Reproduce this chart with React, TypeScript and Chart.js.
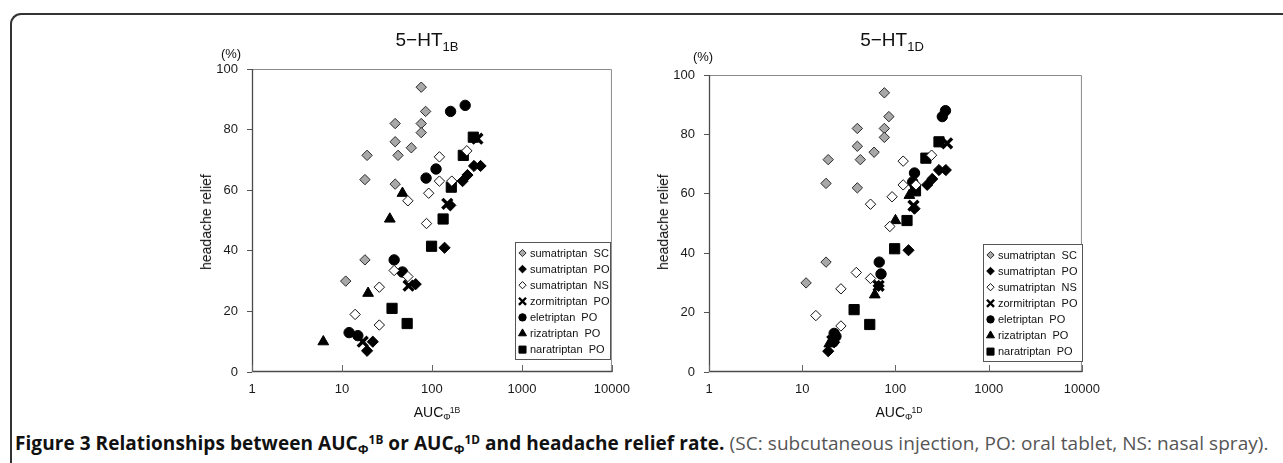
import React, { useEffect, useRef } from 'react';
import { Chart, registerables } from 'chart.js';
Chart.register(...registerables);

type Pt = [number, number];

// ---------- tick labels ----------
const X_TICKS = [1, 10, 100, 1000, 10000];
const Y_TICKS = [0, 20, 40, 60, 80, 100];

// ---------- series names ----------
const SERIES_NAMES = [
  'sumatriptan  SC',
  'sumatriptan  PO',
  'sumatriptan  NS',
  'zormitriptan  PO',
  'eletriptan  PO',
  'rizatriptan  PO',
  'naratriptan  PO',
];

// ---------- data: [AUC, headache relief %] ----------
const sumatriptanSC: Pt[] = [[76, 94], [85, 86], [39, 82], [76, 82], [76, 79], [39, 76], [59, 74], [19, 71.5], [42, 71.5], [18, 63.5], [39, 62], [18, 37], [11, 30]];
const sumatriptanPO: Pt[] = [[19, 7], [22, 10], [66, 29], [138, 41], [160, 55], [219, 63], [248, 65], [293, 68], [347, 68]];
const sumatriptanNS: Pt[] = [[121, 71], [244, 73], [121, 63], [166, 63], [92, 59], [54, 56.5], [87, 49], [38, 33.5], [54, 31.5], [26, 28], [14, 19], [26, 15.5]];

const zormitriptan1B: Pt[] = [[17, 10], [55, 28.5], [148, 55.5], [320, 77]];
const eletriptan1B: Pt[] = [[234, 88], [161, 86], [111, 67], [86, 64], [38, 37], [47, 33], [12, 13], [15, 12]];
const rizatriptan1B: Pt[] = [[47, 59], [34, 50.5], [19.5, 26], [6.2, 10]];
const naratriptan1B: Pt[] = [[288, 77.5], [223, 71.5], [164, 61], [133, 50.5], [99, 41.5], [36, 21], [53, 16]];

const zormitriptan1D: Pt[] = [[21, 10.5], [66, 29], [156, 56], [358, 77]];
const eletriptan1D: Pt[] = [[344, 88], [318, 86], [160, 67], [153, 64], [67, 37], [70, 33], [22, 13], [23, 12]];
const rizatriptan1D: Pt[] = [[141, 59.5], [100, 51], [60, 26], [19.5, 9.5]];
const naratriptan1D: Pt[] = [[293, 77.5], [212, 72], [164, 61], [133, 51], [98, 41.5], [36, 21], [53, 16]];

const SERIES_1B: Pt[][] = [sumatriptanSC, sumatriptanPO, sumatriptanNS, zormitriptan1B, eletriptan1B, rizatriptan1B, naratriptan1B];
const SERIES_1D: Pt[][] = [sumatriptanSC, sumatriptanPO, sumatriptanNS, zormitriptan1D, eletriptan1D, rizatriptan1D, naratriptan1D];

// ---------- styles ----------
type Sty = { ps: string; r: number; bg: string; bc: string; bw: number; lr: number; lbw: number };
const STYLES: Sty[] = [
  { ps: 'rectRot', r: 5.2, bg: '#a8a8a8', bc: '#2a2a2a', bw: 1, lr: 3.6, lbw: 1 },
  { ps: 'rectRot', r: 5.6, bg: '#000', bc: '#000', bw: 1, lr: 3.8, lbw: 1 },
  { ps: 'rectRot', r: 5.2, bg: '#fff', bc: '#111', bw: 1, lr: 3.6, lbw: 1 },
  { ps: 'crossRot', r: 7, bg: '#000', bc: '#000', bw: 3.4, lr: 5, lbw: 2.4 },
  { ps: 'circle', r: 5.2, bg: '#000', bc: '#000', bw: 1, lr: 3.7, lbw: 1 },
  { ps: 'triangle', r: 6.2, bg: '#000', bc: '#000', bw: 1, lr: 4.6, lbw: 1 },
  { ps: 'rect', r: 7.2, bg: '#000', bc: '#000', bw: 1, lr: 5, lbw: 1 },
];

const FONT = "'Liberation Sans', Arial, sans-serif";

function drawMarker(ctx: CanvasRenderingContext2D, s: Sty, x: number, y: number) {
  const r = s.lr;
  ctx.save();
  ctx.fillStyle = s.bg;
  ctx.strokeStyle = s.bc;
  ctx.lineWidth = s.lbw;
  ctx.beginPath();
  if (s.ps === 'rectRot') {
    ctx.moveTo(x, y - r); ctx.lineTo(x + r, y); ctx.lineTo(x, y + r); ctx.lineTo(x - r, y); ctx.closePath();
    ctx.fill(); ctx.stroke();
  } else if (s.ps === 'circle') {
    ctx.arc(x, y, r, 0, Math.PI * 2); ctx.fill(); ctx.stroke();
  } else if (s.ps === 'triangle') {
    const w = r * Math.sqrt(3) / 2;
    ctx.moveTo(x, y - r); ctx.lineTo(x + w, y + r / 2); ctx.lineTo(x - w, y + r / 2); ctx.closePath();
    ctx.fill(); ctx.stroke();
  } else if (s.ps === 'rect') {
    const a = r * Math.SQRT1_2;
    ctx.rect(x - a, y - a, 2 * a, 2 * a); ctx.fill(); ctx.stroke();
  } else if (s.ps === 'crossRot') {
    const a = r * Math.SQRT1_2;
    ctx.moveTo(x - a, y - a); ctx.lineTo(x + a, y + a);
    ctx.moveTo(x + a, y - a); ctx.lineTo(x - a, y + a);
    ctx.stroke();
  }
  ctx.restore();
}

type PanelCfg = {
  left: number; top: number; W: number; H: number;
  yw: number; xh: number; padT: number; padR: number;
  legend: { x: number; y: number; w: number; h: number };
  series: Pt[][];
};

function Panel({ cfg }: { cfg: PanelCfg }) {
  const ref = useRef<HTMLCanvasElement>(null);
  useEffect(() => {
    const canvas = ref.current!;
    const framePlugin = {
      id: 'frame',
      beforeDatasetsDraw(chart: any) {
        const { ctx, chartArea: a } = chart;
        ctx.save();
        ctx.lineWidth = 1;
        ctx.strokeStyle = '#8a8a8a';
        ctx.beginPath();
        ctx.moveTo(a.left, a.top + 0.5); ctx.lineTo(a.right - 0.5, a.top + 0.5); ctx.lineTo(a.right - 0.5, a.bottom);
        ctx.stroke();
        ctx.strokeStyle = '#4a4a4a';
        ctx.lineWidth = 1.3;
        ctx.beginPath();
        ctx.moveTo(a.left + 0.5, a.top); ctx.lineTo(a.left + 0.5, a.bottom - 0.5); ctx.lineTo(a.right, a.bottom - 0.5);
        ctx.stroke();
        // inward x ticks
        const xs = chart.scales.x;
        ctx.lineWidth = 1;
        ctx.strokeStyle = '#666';
        X_TICKS.forEach((v) => {
          const px = Math.round(xs.getPixelForValue(v)) + 0.5;
          ctx.beginPath(); ctx.moveTo(px, a.bottom); ctx.lineTo(px, a.bottom - 7); ctx.stroke();
        });
        ctx.restore();
      },
      afterDatasetsDraw(chart: any) {
        const { ctx } = chart;
        const L = cfg.legend;
        const lx = L.x - cfg.left, ly = L.y - cfg.top;
        ctx.save();
        ctx.fillStyle = '#fff';
        ctx.fillRect(lx, ly, L.w, L.h);
        ctx.strokeStyle = '#555';
        ctx.lineWidth = 1;
        ctx.strokeRect(Math.round(lx) + 0.5, Math.round(ly) + 0.5, L.w, L.h);
        ctx.font = `11px ${FONT}`;
        ctx.textBaseline = 'middle';
        ctx.fillStyle = '#111';
        SERIES_NAMES.forEach((name, i) => {
          const cy = ly + 11 + i * 16.1;
          drawMarker(ctx, STYLES[i], lx + 7.5, cy);
          ctx.fillText(name, lx + 15, cy + 0.5);
        });
        ctx.restore();
      },
    };
    const chart = new Chart(canvas, {
      type: 'scatter',
      data: {
        datasets: cfg.series.map((pts, i) => ({
          label: SERIES_NAMES[i],
          data: pts.map(([x, y]) => ({ x, y })),
          pointStyle: STYLES[i].ps as any,
          pointRadius: STYLES[i].r,
          pointBackgroundColor: STYLES[i].bg,
          pointBorderColor: STYLES[i].bc,
          pointBorderWidth: STYLES[i].bw,
          showLine: false,
        })),
      },
      options: {
        animation: false,
        responsive: false,
        maintainAspectRatio: false,
        devicePixelRatio: 1,
        layout: { padding: { left: 0, right: cfg.padR, top: cfg.padT, bottom: 0 } },
        plugins: { legend: { display: false }, tooltip: { enabled: false }, title: { display: false } },
        scales: {
          x: {
            type: 'logarithmic',
            min: 1,
            max: 10000,
            afterBuildTicks: (s: any) => { s.ticks = X_TICKS.map((v) => ({ value: v })); },
            afterFit: (s: any) => { s.height = cfg.xh; },
            ticks: {
              callback: (v: any) => String(v),
              font: { family: FONT, size: 13 },
              color: '#1a1a1a',
              padding: 10,
              maxRotation: 0,
              autoSkip: false,
            },
            grid: { display: false, drawTicks: false },
            border: { display: false },
          },
          y: {
            min: 0,
            max: 100,
            afterBuildTicks: (s: any) => { s.ticks = Y_TICKS.map((v) => ({ value: v })); },
            afterFit: (s: any) => { s.width = cfg.yw; },
            ticks: { font: { family: FONT, size: 13 }, color: '#1a1a1a', padding: 9 },
            grid: { display: true, drawOnChartArea: false, drawTicks: true, tickLength: 5, color: '#555' },
            border: { display: false },
          },
        },
      },
      plugins: [framePlugin],
    } as any);
    return () => chart.destroy();
  }, []);
  return (
    <canvas
      ref={ref}
      width={cfg.W}
      height={cfg.H}
      style={{ position: 'absolute', left: cfg.left, top: cfg.top, width: cfg.W, height: cfg.H }}
    />
  );
}

const LEFT_CFG: PanelCfg = {
  left: 150, top: 40, W: 490, H: 370, yw: 102, xh: 38, padT: 29, padR: 19,
  legend: { x: 515, y: 242, w: 95, h: 117 },
  series: SERIES_1B,
};
const RIGHT_CFG: PanelCfg = {
  left: 650, top: 40, W: 460, H: 370, yw: 59, xh: 38, padT: 35, padR: 21,
  legend: { x: 983, y: 244, w: 99, h: 117 },
  series: SERIES_1D,
};

const abs = (o: any): React.CSSProperties => ({ position: 'absolute', whiteSpace: 'nowrap', fontFamily: FONT, color: '#111', ...o });
const subS: React.CSSProperties = { fontSize: '0.66em', lineHeight: 0, verticalAlign: '-0.28em' };
const supS: React.CSSProperties = { fontSize: '0.62em', lineHeight: 0, verticalAlign: '0.5em' };

function AUC({ r }: { r: string }) {
  return (
    <>
      AUC<span style={subS}>Φ</span><span style={{ ...supS, marginLeft: -1 }}>{r}</span>
    </>
  );
}

export default function App() {
  useEffect(() => {
    document.body.style.margin = '0';
  }, []);
  return (
    <div style={{ position: 'absolute', left: 0, top: 0, width: 1283, height: 463, overflow: 'hidden', background: '#fff' }}>
      <div
        style={{
          position: 'absolute', left: 10, top: 13, width: 1290, height: 470, boxSizing: 'border-box',
          borderTop: '2px solid #333', borderLeft: '2px solid #333', borderTopLeftRadius: 11,
        }}
      />
      <Panel cfg={LEFT_CFG} />
      <Panel cfg={RIGHT_CFG} />

      {/* titles */}
      <div style={abs({ left: 427, top: 30, fontSize: 19, lineHeight: '19px', transform: 'translateX(-50%)' })}>
        5−HT<span style={{ fontSize: 13, lineHeight: 0, verticalAlign: -5 }}>1B</span>
      </div>
      <div style={abs({ left: 892, top: 30, fontSize: 19, lineHeight: '19px', transform: 'translateX(-50%)' })}>
        5−HT<span style={{ fontSize: 13, lineHeight: 0, verticalAlign: -5 }}>1D</span>
      </div>

      {/* (%) */}
      <div style={abs({ left: 231, top: 47, fontSize: 13, lineHeight: '13px', transform: 'translateX(-50%)' })}>(%)</div>
      <div style={abs({ left: 703, top: 50, fontSize: 13, lineHeight: '13px', transform: 'translateX(-50%)' })}>(%)</div>

      {/* y axis titles */}
      <div style={abs({ left: 206, top: 222, fontSize: 14, lineHeight: '14px', transform: 'translate(-50%, -50%) rotate(-90deg)' })}>
        headache relief
      </div>
      <div style={abs({ left: 663, top: 222, fontSize: 14, lineHeight: '14px', transform: 'translate(-50%, -50%) rotate(-90deg)' })}>
        headache relief
      </div>

      {/* x axis titles */}
      <div style={abs({ left: 437, top: 405, fontSize: 14, lineHeight: '14px', transform: 'translateX(-50%)' })}>
        <AUC r="1B" />
      </div>
      <div style={abs({ left: 899, top: 405, fontSize: 14, lineHeight: '14px', transform: 'translateX(-50%)' })}>
        <AUC r="1D" />
      </div>

      {/* caption */}
      <div
        style={abs({
          left: 15, top: 434, fontSize: 19, lineHeight: '19px', letterSpacing: '0.06px',
          fontFamily: "'Open Sans', sans-serif",
        })}
      >
        <span style={{ fontWeight: 700, color: '#111' }}>
          Figure 3 Relationships between AUC<span style={subS}>Φ</span><span style={supS}>1B</span> or AUC
          <span style={subS}>Φ</span><span style={supS}>1D</span> and headache relief rate.
        </span>{' '}
        <span style={{ color: '#555' }}>(SC: subcutaneous injection, PO: oral tablet, NS: nasal spray).</span>
      </div>
    </div>
  );
}
